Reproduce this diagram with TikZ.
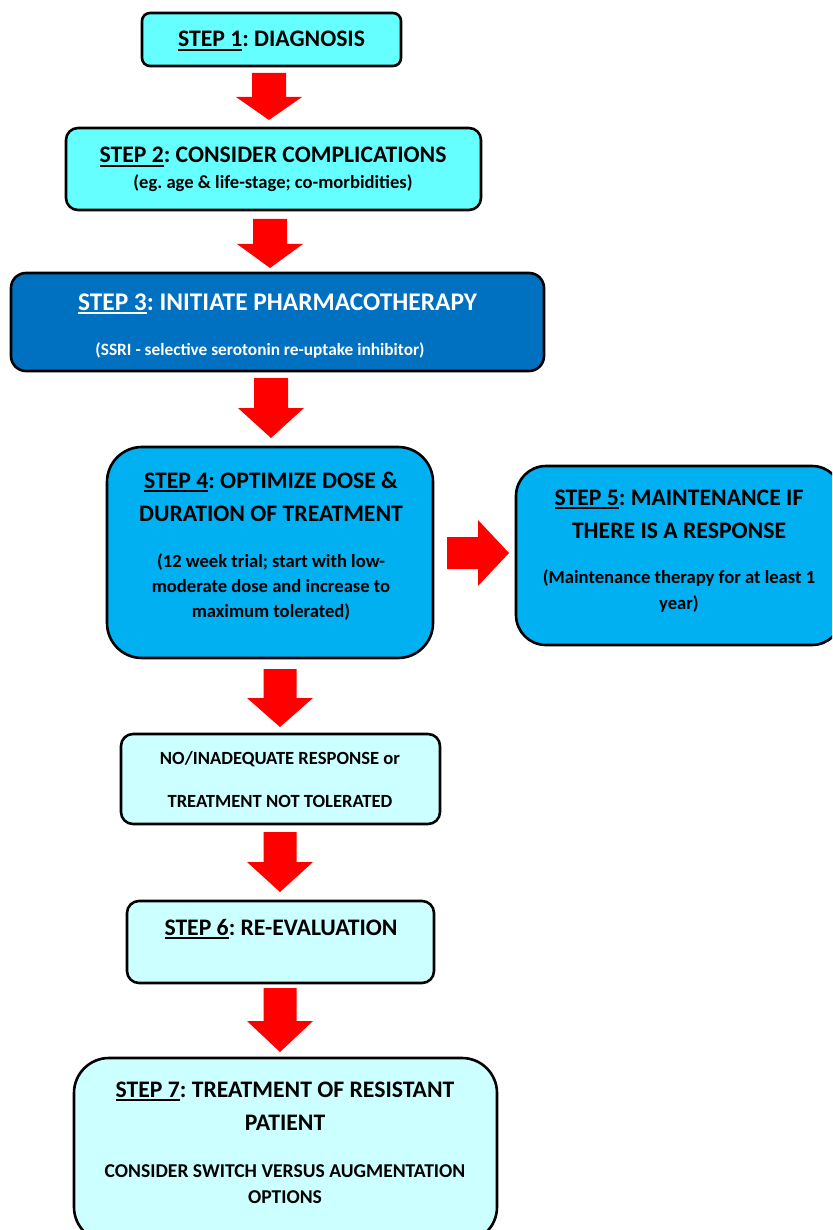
\documentclass[tikz,border=0pt]{standalone}
\usepackage{fontspec}
\setmainfont{Carlito}
\frenchspacing
\definecolor{cyanA}{HTML}{66FFFF}
\definecolor{blueD}{HTML}{0070C0}
\definecolor{blueM}{HTML}{00B0F0}
\definecolor{cyanL}{HTML}{CCFFFF}
\definecolor{arrowred}{HTML}{FF0000}
\newcommand\ulstep[1]{\setbox0\hbox{#1}\rlap{\rule[-0.16em]{\wd0}{0.075em}}\box0}
\newcommand\bigdownarrow[6]{% cx, top, headstart, tip, shaft half, head half
  \fill[arrowred] (#1-#5,#2) -- (#1+#5,#2) -- (#1+#5,#3) -- (#1+#6,#3) -- (#1,#4)
    -- (#1-#6,#3) -- (#1-#5,#3) -- cycle;}
\tikzset{
  box/.style={draw=black, line width=2.6pt, inner sep=0pt},
  ttl/.style={anchor=base, inner sep=0pt, font=\fontsize{23.7}{28}\selectfont\bfseries},
  ttlb/.style={anchor=base, inner sep=0pt, font=\fontsize{25.4}{30}\selectfont\bfseries},
  sub/.style={anchor=base, inner sep=0pt, font=\fontsize{18.6}{22}\selectfont\bfseries},
}
\begin{document}
\begin{tikzpicture}[x=1pt,y=-1pt]
\useasboundingbox (0,0) rectangle (832,1230);
\begin{scope}
\clip (0,0) rectangle (832,1230);
% boxes
\node[box, fill=cyanA, minimum width=259pt, minimum height=53pt, rounded corners=8pt] (s1) at (271.5,39.5) {};
\node[box, fill=cyanA, minimum width=415pt, minimum height=82pt, rounded corners=12pt] (s2) at (273.5,169) {};
\node[box, fill=blueD, minimum width=533pt, minimum height=98pt, rounded corners=15pt] (s3) at (277.5,322) {};
\node[box, fill=blueM, minimum width=326pt, minimum height=211pt, rounded corners=35pt] (s4) at (270,552.5) {};
\node[box, fill=blueM, minimum width=326pt, minimum height=179pt, rounded corners=30pt] (s5) at (679,555.5) {};
\node[box, fill=cyanL, minimum width=319pt, minimum height=90pt, rounded corners=12pt] (nr) at (280.5,779) {};
\node[box, fill=cyanL, minimum width=307pt, minimum height=82pt, rounded corners=12pt] (s6) at (280.5,942) {};
\node[box, fill=cyanL, minimum width=423pt, minimum height=184pt, rounded corners=35pt] (s7) at (285.5,1150) {};
\end{scope}
% block arrows
\bigdownarrow{269}{73}{97}{120}{17}{33}
\bigdownarrow{270}{219}{244}{268}{17}{33}
\bigdownarrow{271}{378}{408}{438}{17}{33}
\bigdownarrow{280}{669}{698}{727}{16.5}{33}
\bigdownarrow{280}{832}{862}{892}{16.5}{33}
\bigdownarrow{280}{988}{1021}{1052}{16.5}{33}
\fill[arrowred] (447,537) -- (478,537) -- (478,520) -- (509,553) -- (478,586) -- (478,569) -- (447,569) -- cycle;
% texts
\node[ttl] (t1) at (271.5,47) {\ulstep{STEP 1}: DIAGNOSIS};
\node[ttl] (t2) at (273,163) {\ulstep{STEP 2}: CONSIDER COMPLICATIONS};
\node[sub] (t2b) at (273,189) {(eg. age \& life-stage; co-morbidities)};
\node[ttlb, text=white] (t3) at (277.5,310) {\ulstep{STEP 3}: INITIATE PHARMACOTHERAPY};
\node[sub, text=white, font=\fontsize{17.3}{20}\selectfont\bfseries] (t3b) at (260,355) {(SSRI - selective serotonin re-uptake inhibitor)};
\node[ttl] (t4a) at (271,488) {\ulstep{STEP 4}: OPTIMIZE DOSE \&};
\node[ttl] (t4b) at (271,521) {DURATION OF TREATMENT};
\node[sub] (t4c) at (271,567) {(12 week trial; start with low-};
\node[sub] (t4d) at (271,592) {moderate dose and increase to};
\node[sub] (t4e) at (271,617) {maximum tolerated)};
\node[ttl] (t5a) at (679,505) {\ulstep{STEP 5}: MAINTENANCE IF};
\node[ttl] (t5b) at (679,538) {THERE IS A RESPONSE};
\node[sub] (t5c) at (679,583) {(Maintenance therapy for at least 1};
\node[sub] (t5d) at (679,609) {year)};
\node[sub] (tna) at (280,764) {NO/INADEQUATE RESPONSE or};
\node[sub] (tnb) at (280,807) {TREATMENT NOT TOLERATED};
\node[ttl] (t6) at (281,935) {\ulstep{STEP 6}: RE-EVALUATION};
\node[ttl] (t7a) at (285,1097) {\ulstep{STEP 7}: TREATMENT OF RESISTANT};
\node[ttl] (t7b) at (285,1130) {PATIENT};
\node[sub, font=\fontsize{19.6}{23}\selectfont\bfseries] (t7c) at (285,1177) {CONSIDER SWITCH VERSUS AUGMENTATION};
\node[sub, font=\fontsize{19.6}{23}\selectfont\bfseries] (t7d) at (285,1203) {OPTIONS};
\end{tikzpicture}
\end{document}
